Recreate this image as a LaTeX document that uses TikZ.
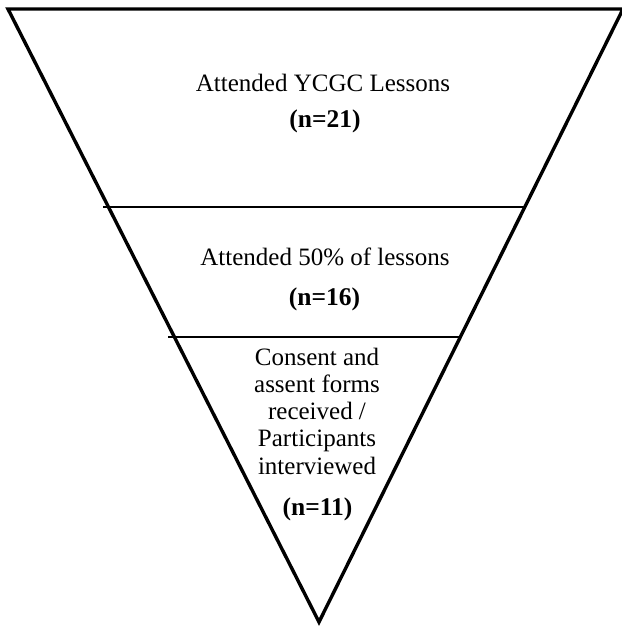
\documentclass[tikz,border=0pt]{standalone}
\usepackage{fontspec}
\setmainfont{Liberation Serif}
\begin{document}
\begin{tikzpicture}[x=1pt,y=-1pt,
  funnel/.style={line width=3.4pt,line join=miter},
  divider/.style={line width=1.2pt},
  label/.style={inner sep=0pt,anchor=base,align=center,font=\fontsize{25}{27.2}\selectfont},
  count/.style={inner sep=0pt,anchor=base,font=\fontsize{25.5}{27.2}\selectfont\bfseries}]
\useasboundingbox (0,0) rectangle (621,631);
\fill[white] (0,0) rectangle (621,631);
\coordinate (tl) at (8,9);
\coordinate (tr) at (623,9);
\coordinate (apex) at (319,622);
\draw[funnel] (tl) -- (tr) -- (apex) -- cycle;
\coordinate (d1l) at (103,207);
\coordinate (d1r) at (525,207);
\coordinate (d2l) at (168,337);
\coordinate (d2r) at (459,337);
\draw[divider] (d1l) -- (d1r);
\draw[divider] (d2l) -- (d2r);
\node[label] (t1) at (323,92) {Attended YCGC Lessons};
\node[count] (n1) at (325,128) {(n=21)};
\node[label] (t2) at (325,265) {Attended 50\% of lessons};
\node[count] (n2) at (324.5,305) {(n=16)};
\node[label] (t3) at (317,474) {Consent and\\assent forms\\received /\\Participants\\interviewed};
\node[count] (n3) at (317.5,515) {(n=11)};
\end{tikzpicture}
\end{document}
